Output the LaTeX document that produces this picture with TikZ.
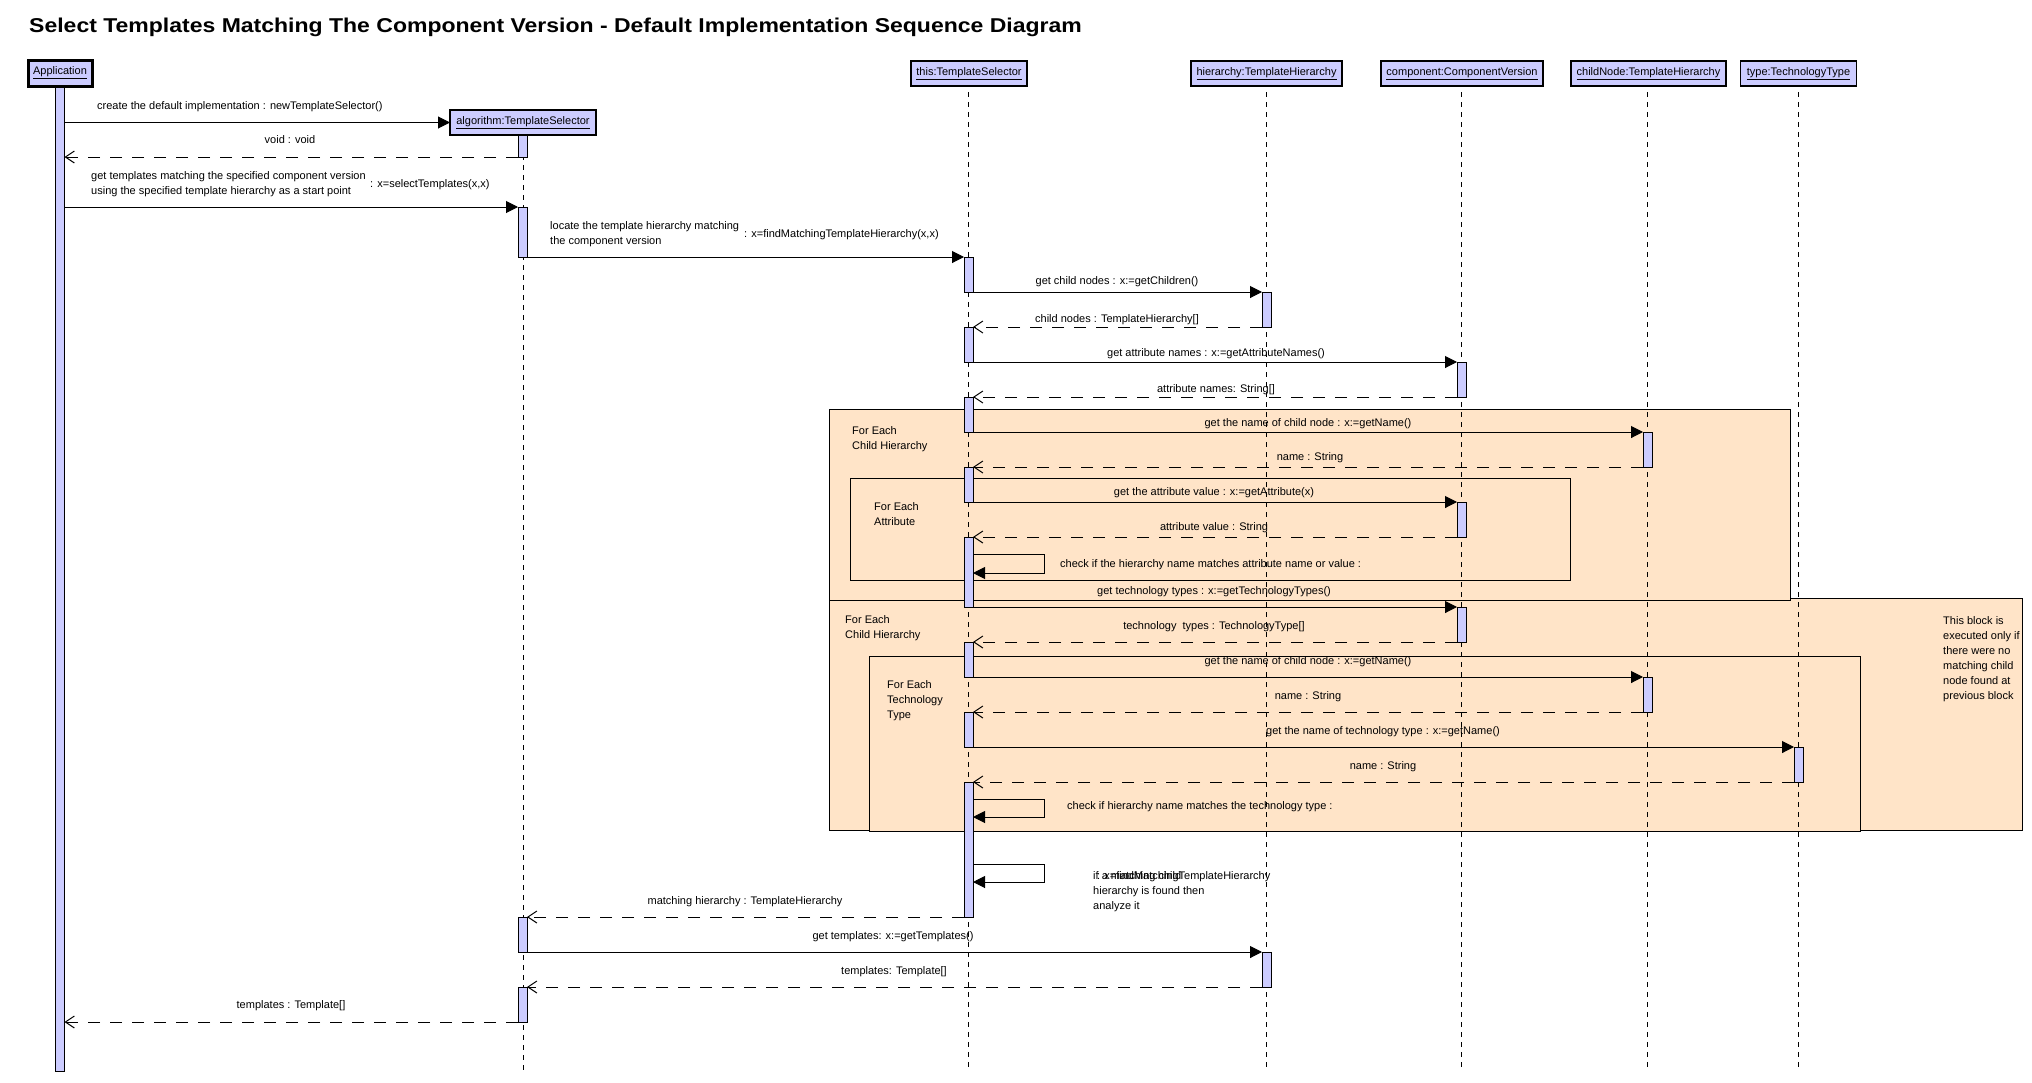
\documentclass[tikz,border=0pt]{standalone}
\usepackage{fontspec}
\usepackage{graphicx}
\setmainfont{Liberation Sans}
\usetikzlibrary{arrows.meta}
\definecolor{lav}{RGB}{204,204,255}
\definecolor{peach}{RGB}{255,228,200}
\newcommand\fs{\fontsize{11}{15}\selectfont}
\newcommand\actbar[4]{\node[bar, minimum height={#4-#3}] (#1) at (#2,#3) {};}
\begin{document}
\begin{tikzpicture}[x=1pt,y=-1pt, font=\fs,
  bar/.style={draw, fill=lav, line width=1pt, minimum width=9pt, inner sep=0pt, outer sep=0pt, anchor=north},
  hdr/.style={draw, fill=lav, line width=1.3pt, inner sep=0pt, outer sep=0pt, minimum height=25pt},
  lifeline/.style={line width=1pt, dash pattern=on 5pt off 5pt},
  call/.style={line width=1pt, -{Triangle[length=12pt,width=12pt]}},
  ret/.style={line width=1pt, dash pattern=on 12pt off 10pt, -{Straight Barb[length=9pt,width=12pt,line width=1pt]}},
  lbl/.style={inner sep=0pt, text height=8.5pt, text depth=1.5pt},
  mlbl/.style={inner sep=0pt, align=left, anchor=north west},
  frag/.style={draw, fill=peach, line width=1pt}]
\fill[white] (0,0) rectangle (2032,1082);
\path[use as bounding box] (0,0) rectangle (2032,1082);
\coordinate (bottom) at (0,1071);

% title
\node[anchor=base west, inner sep=0pt, font=\fontsize{20}{22}\bfseries\selectfont] (title) at (29,32)
  {\scalebox{1.15}[1]{Select Templates Matching The Component Version - Default Implementation Sequence Diagram}};

% combined fragments
\draw[frag] (829,598) rectangle (2022,830);
\draw[frag] (829,409) rectangle (1790,600);
\draw[frag] (850,478) rectangle (1570,580);
\draw[frag] (869,656) rectangle (1860,831);
\node[mlbl] (f1) at (852,426.5) {For Each\\Child Hierarchy};
\node[mlbl] (f2) at (874,502.5) {For Each\\Attribute};
\node[mlbl] (f3) at (845,615.5) {For Each\\Child Hierarchy};
\node[mlbl] (f4) at (887,680.5) {For Each\\Technology\\Type};
\node[mlbl] (note) at (1943,616.5) {This block is\\executed only if\\there were no\\matching child\\node found at\\previous block};

% header boxes
\node[hdr, line width=3pt, minimum width=64pt, minimum height=26pt] (appH) at (60,73) {\underline{Application}};
\node[hdr, minimum width=146pt] (alH) at (523,122.5) {\underline{algorithm:TemplateSelector}};
\node[hdr, minimum width=116pt] (thH) at (969,73.5) {\underline{this:TemplateSelector}};
\node[hdr, minimum width=151pt] (hiH) at (1266.5,73.5) {\underline{hierarchy:TemplateHierarchy}};
\node[hdr, minimum width=162pt] (coH) at (1462,73.5) {\underline{component:ComponentVersion}};
\node[hdr, minimum width=155pt] (chH) at (1648.5,73.5) {\underline{childNode:TemplateHierarchy}};
\node[hdr, minimum width=116pt] (tyH) at (1798.5,73.5) {\underline{type:TechnologyType}};

% lifelines
\foreach \h/\x in {thH/968.5,hiH/1266.5,coH/1461.5,chH/1647.5,tyH/1798.5}
  \draw[lifeline] (\h.south -| \x,0) ++(0,6) -- (\x,1071);
\draw[lifeline] (alH.south) -- (alH.south |- bottom);

% activation bars
\actbar{appA}{60}{87}{1071}
\actbar{alA1}{522.5}{135}{157}
\actbar{alA2}{522.5}{207}{257}
\actbar{alA3}{522.5}{917}{952}
\actbar{alA4}{522.5}{987}{1022}
\actbar{thA1}{968.5}{257}{292}
\actbar{thA2}{968.5}{327}{362}
\actbar{thA3}{968.5}{397}{432}
\actbar{thA4}{968.5}{467}{502}
\actbar{thA5}{968.5}{537}{607}
\actbar{thA6}{968.5}{642}{677}
\actbar{thA7}{968.5}{712}{747}
\actbar{thA8}{968.5}{782}{917}
\actbar{hiA1}{1266.5}{292}{327}
\actbar{hiA2}{1266.5}{952}{987}
\actbar{coA1}{1461.5}{362}{397}
\actbar{coA2}{1461.5}{502}{537}
\actbar{coA3}{1461.5}{607}{642}
\actbar{chA1}{1647.5}{432}{467}
\actbar{chA2}{1647.5}{677}{712}
\actbar{tyA1}{1798.5}{747}{782}

% messages
\draw[call] (appA.east |- alH.west) -- (alH.west);
\node[lbl, anchor=west] (l1) at (97,106) {create the default implementation : newTemplateSelector()};
\draw[ret] (alA1.south west) -- (appA.east |- alA1.south);
\node[lbl] (l2) at (290,140) {void : void};
\draw[call] (appA.east |- alA2.north) -- (alA2.north west);
\node[mlbl] (l3) at (91,171.5) {get templates matching the specified component version\\using the specified template hierarchy as a start point};
\node[lbl, anchor=west] (l3b) at (370,184) {: x=selectTemplates(x,x)};
\draw[call] (alA2.south east) -- (thA1.north west);
\node[mlbl] (l4) at (550,221.5) {locate the template hierarchy matching\\the component version};
\node[lbl, anchor=west] (l4b) at (744,234) {: x=findMatchingTemplateHierarchy(x,x)};
\draw[call] (thA1.south east) -- (hiA1.north west);
\node[lbl] (l5) at (1117,281) {get child nodes : x:=getChildren()};
\draw[ret] (hiA1.south west) -- (thA2.north east);
\node[lbl] (l6) at (1117,319) {child nodes : TemplateHierarchy[]};
\draw[call] (thA2.south east) -- (coA1.north west);
\node[lbl] (l7) at (1216,353) {get attribute names : x:=getAttributeNames()};
\draw[ret] (coA1.south west) -- (thA3.north east);
\node[lbl] (l8) at (1216,389) {attribute names: String[]};
\draw[call] (thA3.south east) -- (chA1.north west);
\node[lbl] (l9) at (1308,423) {get the name of child node : x:=getName()};
\draw[ret] (chA1.south west) -- (thA4.north east);
\node[lbl] (l10) at (1310,457) {name : String};
\draw[call] (thA4.south east) -- (coA2.north west);
\node[lbl] (l11) at (1214,492) {get the attribute value : x:=getAttribute(x)};
\draw[ret] (coA2.south west) -- (thA5.north east);
\node[lbl] (l12) at (1214,527) {attribute value : String};
\draw[call] (thA5.east |- 0,554) -- ++(71,0) -- ++(0,19) -- (thA5.east |- 0,573);
\node[lbl, anchor=west] (l13) at (1060,564) {check if the hierarchy name matches attribute name or value :};
\draw[call] (thA5.south east) -- (coA3.north west);
\node[lbl] (l14) at (1214,591) {get technology types : x:=getTechnologyTypes()};
\draw[ret] (coA3.south west) -- (thA6.north east);
\node[lbl] (l15) at (1214,626) {technology\ \ types : TechnologyType[]};
\draw[call] (thA6.south east) -- (chA2.north west);
\node[lbl] (l16) at (1308,661) {get the name of child node : x:=getName()};
\draw[ret] (chA2.south west) -- (thA7.north east);
\node[lbl] (l17) at (1308,696) {name : String};
\draw[call] (thA7.south east) -- (tyA1.north west);
\node[lbl] (l18) at (1383,731) {get the name of technology type : x:=getName()};
\draw[ret] (tyA1.south west) -- (thA8.north east);
\node[lbl] (l19) at (1383,766) {name : String};
\draw[call] (thA8.east |- 0,799) -- ++(71,0) -- ++(0,18) -- (thA8.east |- 0,817);
\node[lbl, anchor=west] (l20) at (1067,806) {check if hierarchy name matches the technology type :};
\draw[call] (thA8.east |- 0,864) -- ++(71,0) -- ++(0,18) -- (thA8.east |- 0,882);
\node[mlbl] (l21) at (1093,871.5) {if a matching child\\hierarchy is found then\\analyze it};
\node[lbl, anchor=west] (l21b) at (1097,876) {: x=findMatchingTemplateHierarchy};
\draw[ret] (thA8.south west) -- (alA3.north east);
\node[lbl] (l22) at (745,901) {matching hierarchy : TemplateHierarchy};
\draw[call] (alA3.south east) -- (hiA2.north west);
\node[lbl] (l23) at (893,936) {get templates: x:=getTemplates()};
\draw[ret] (hiA2.south west) -- (alA4.north east);
\node[lbl] (l24) at (894,971) {templates: Template[]};
\draw[ret] (alA4.south west) -- (appA.east |- alA4.south);
\node[lbl] (l25) at (291,1005) {templates : Template[]};
\end{tikzpicture}
\end{document}
